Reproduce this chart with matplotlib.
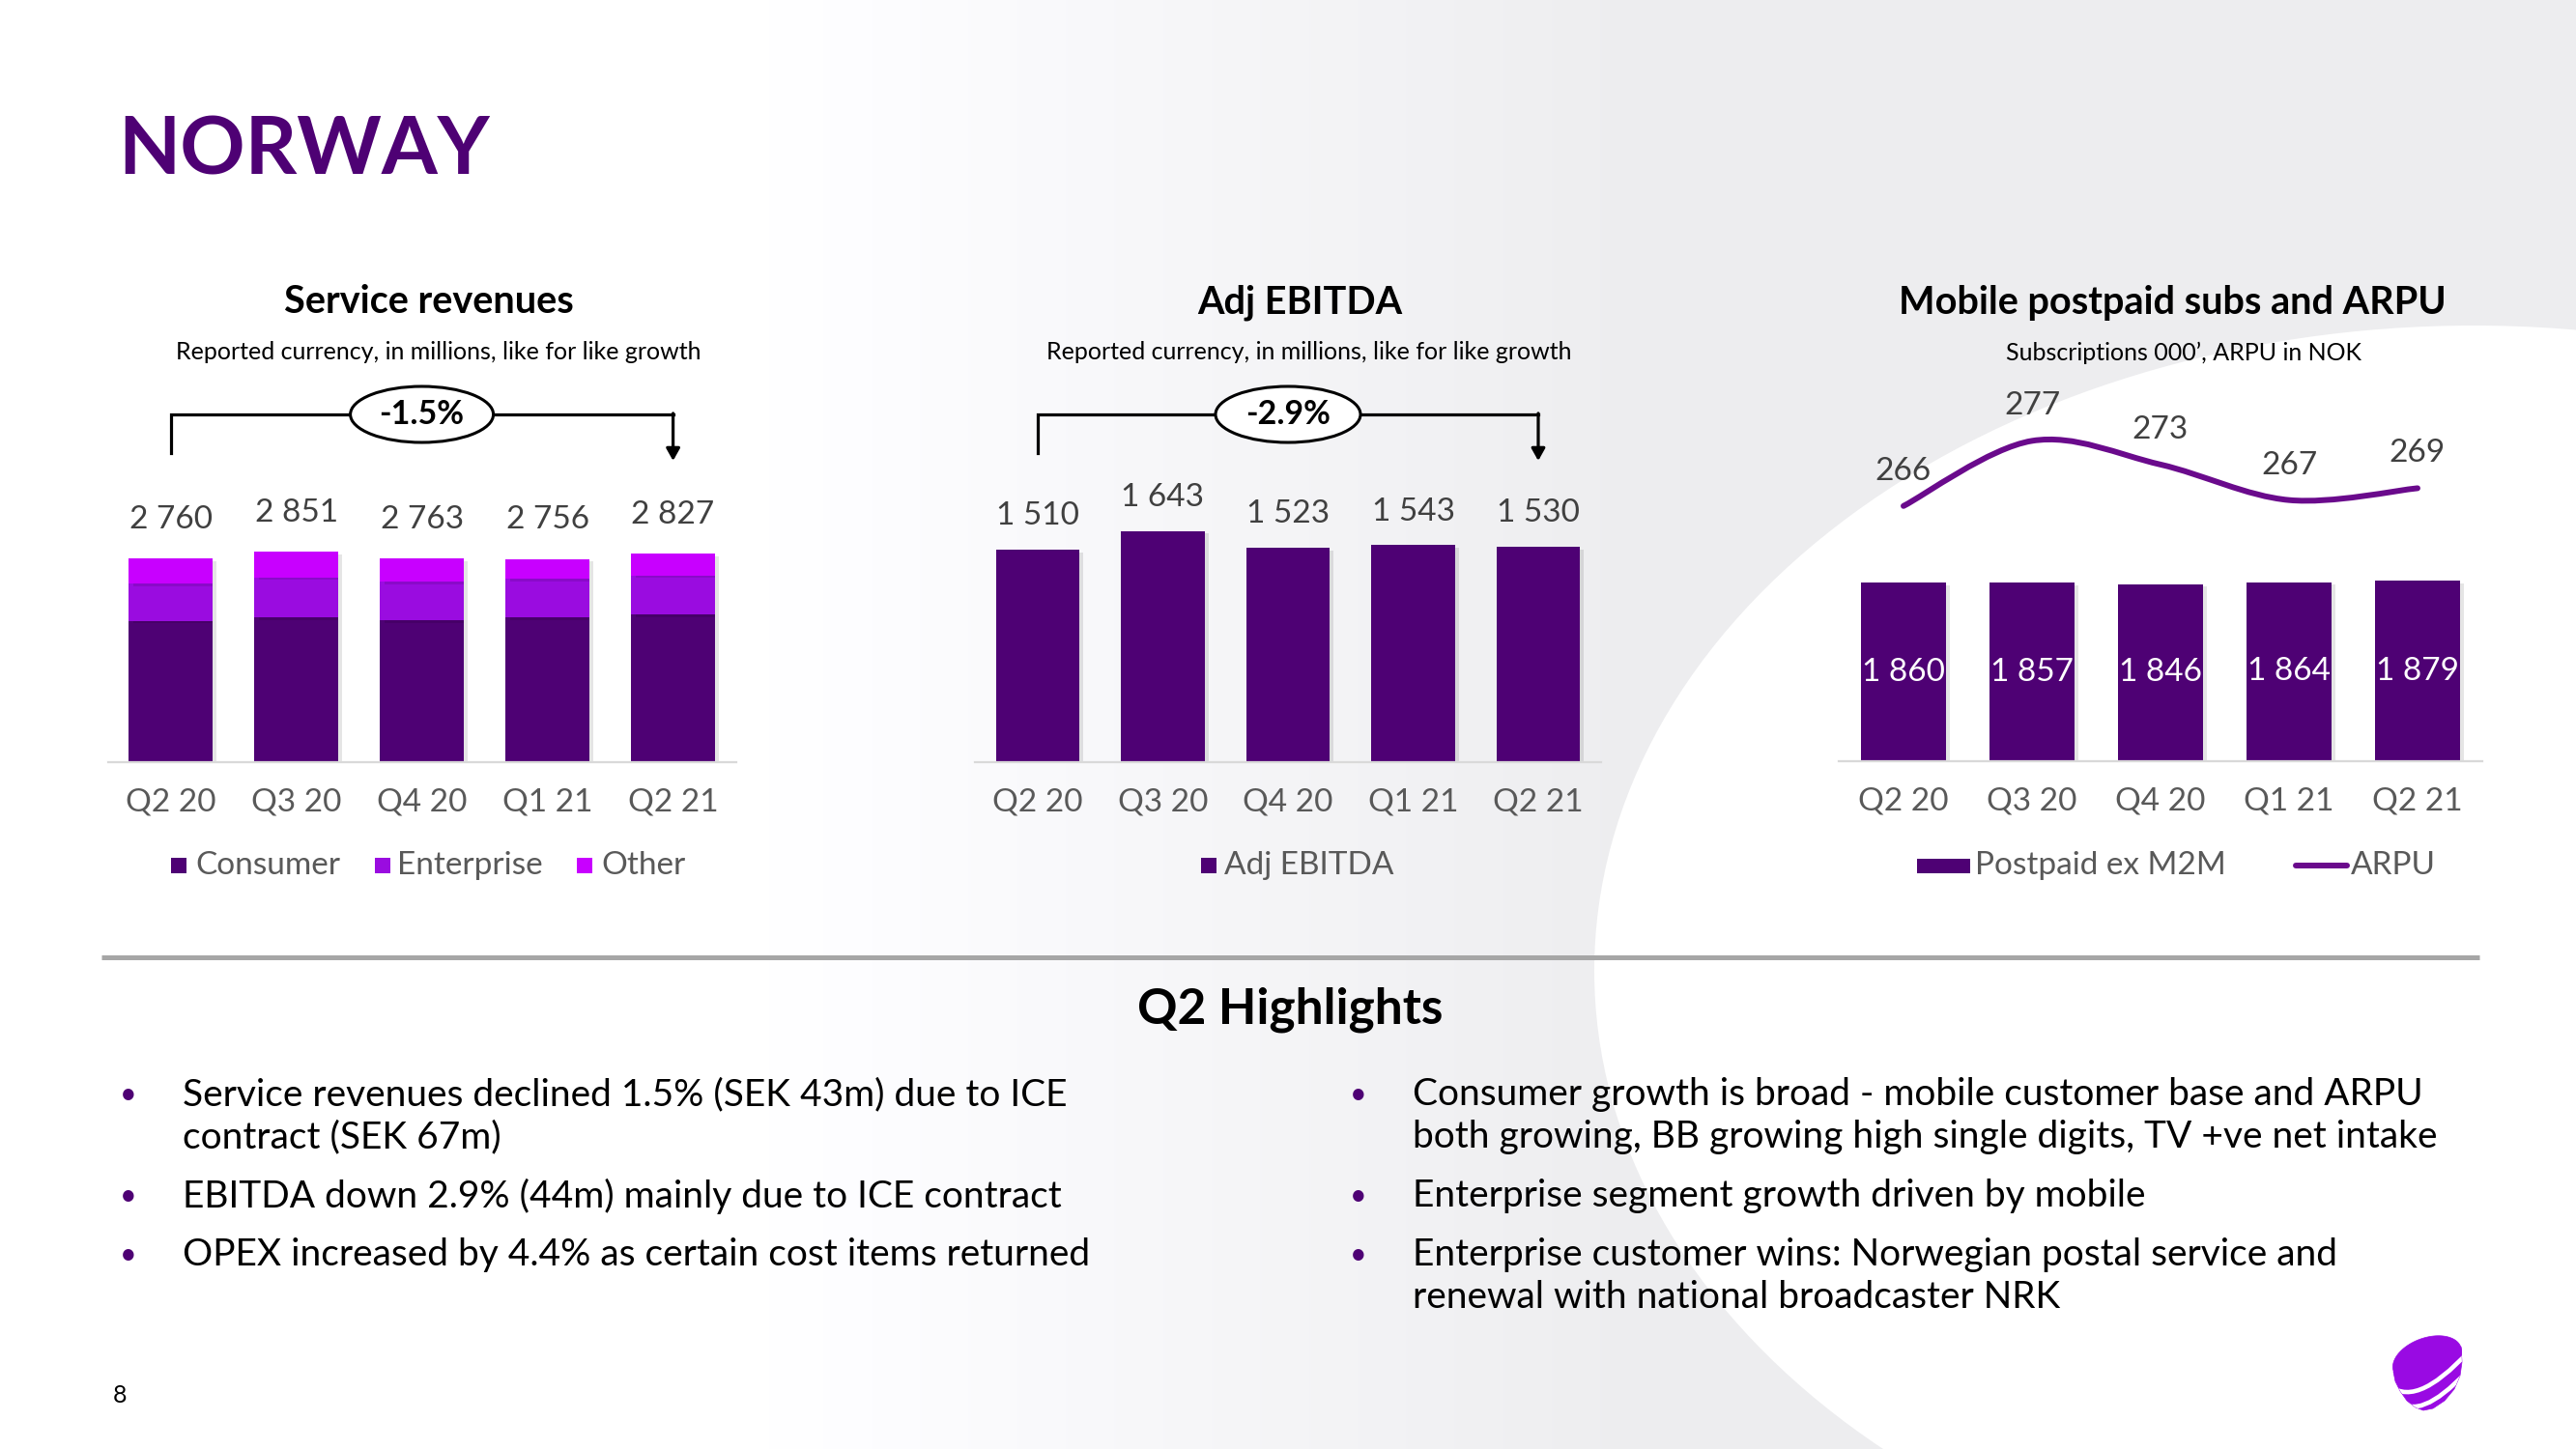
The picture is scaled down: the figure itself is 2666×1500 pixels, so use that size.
import numpy as np
import matplotlib
matplotlib.use('Agg')
import matplotlib.pyplot as plt
from matplotlib.patches import Ellipse, Rectangle, Polygon, PathPatch
from matplotlib.path import Path
import matplotlib.patheffects as pe
from matplotlib.transforms import blended_transform_factory

plt.rcParams['font.family'] = ['Lato', 'DejaVu Sans']

# ---------------- data ----------------
quarters = ['Q2 20', 'Q3 20', 'Q4 20', 'Q1 21', 'Q2 21']
consumer = [1917, 1960, 1925, 1961, 2004]
enterprise = [507, 545, 518, 523, 529]
other = [336, 346, 320, 272, 294]
service_total = [2760, 2851, 2763, 2756, 2827]
ebitda = [1510, 1643, 1523, 1543, 1530]
postpaid = [1860, 1857, 1846, 1864, 1879]
arpu = [266, 277, 273, 267, 269]
sr_growth = '-1.5%'
eb_growth = '-2.9%'

left_bullets = [
    'Service revenues declined 1.5% (SEK 43m) due to ICE\ncontract (SEK 67m)',
    'EBITDA down 2.9% (44m) mainly due to ICE contract',
    'OPEX increased by 4.4% as certain cost items returned',
]
right_bullets = [
    'Consumer growth is broad - mobile customer base and ARPU\nboth growing, BB growing high single digits, TV +ve net intake',
    'Enterprise segment growth driven by mobile',
    'Enterprise customer wins: Norwegian postal service and\nrenewal with national broadcaster NRK',
]

C_CONS = '#4E0174'
C_ENT = '#9A0CE0'
C_OTH = '#C800FF'
C_ARPU = '#6A0A8C'
C_LOGO = '#990AE3'
C_NUM = '#404040'
C_TICK = '#595959'

W, H = 2666, 1500
fig = plt.figure(figsize=(W / 100, H / 100), dpi=100)


def fr(x0, y0, x1, y1):
    return [x0 / W, 1 - y1 / H, (x1 - x0) / W, (y1 - y0) / H]


def T(x, y, s, **kw):
    return fig.text(x / W, 1 - y / H, s, **kw)


def fmt(v):
    return f'{v:,}'.replace(',', ' ')


# ---------------- background ----------------
bg = fig.add_axes([0, 0, 1, 1], zorder=-5)
bg.axis('off')
xs = np.linspace(0, W, 400)
t = np.clip((xs - 800) / 900, 0, 1)
g = 1 - 0.07 * t
img = np.stack([g, g, np.minimum(1, g + 0.008)], axis=-1)[None, :, :].repeat(10, axis=0)
bg.imshow(img, extent=[0, W, H, 0], aspect='auto', interpolation='bilinear')
bg.add_patch(Ellipse((2560, 1005), 1820, 1336, fc='white', ec='none'))
bg.set_xlim(0, W)
bg.set_ylim(H, 0)

# ---------------- chart axes ----------------
BAR_W = 0.665
FS_NUM = 24
FS_TICK = 24


def make_ax(xc0, spacing, baseline, ppu, height=400):
    x0 = xc0 - 0.5 * spacing
    x1 = xc0 + 4.5 * spacing
    ax = fig.add_axes(fr(x0, baseline - height, x1, baseline), zorder=2)
    ax.set_xlim(-0.5, 4.5)
    ax.set_ylim(0, height / ppu)
    ax.patch.set_alpha(0)
    for s in ['top', 'right', 'left']:
        ax.spines[s].set_visible(False)
    ax.spines['bottom'].set_color('#D9D9D9')
    ax.spines['bottom'].set_linewidth(1.6)
    ax.set_yticks([])
    ax.set_xticks(range(len(quarters)))
    ax.set_xticklabels(quarters, fontsize=FS_TICK, color=C_TICK)
    ax.tick_params(axis='x', length=0, pad=19)
    return ax


shadow = [pe.SimplePatchShadow(offset=(3, -2), shadow_rgbFace='#000000', alpha=0.10), pe.Normal()]

# Service revenues
ax1 = make_ax(176.6, 130, 789.4, 0.07652)
x = np.arange(len(quarters))
bottom2 = np.array(consumer)
bottom3 = bottom2 + np.array(enterprise)
for bars in [
    ax1.bar(x, consumer, BAR_W, color=C_CONS),
    ax1.bar(x, enterprise, BAR_W, bottom=bottom2, color=C_ENT),
    ax1.bar(x, other, BAR_W, bottom=bottom3, color=C_OTH),
]:
    for b in bars:
        b.set_path_effects(shadow)
for i, v in enumerate(service_total):
    ax1.annotate(fmt(v), (i, bottom3[i] + other[i]), xytext=(0, 29), textcoords='offset points',
                 ha='center', va='center', fontsize=FS_NUM, color=C_NUM)

# EBITDA
ax2 = make_ax(1074, 129.5, 789.4, 0.1459)
for b in ax2.bar(x, ebitda, BAR_W, color=C_CONS):
    b.set_path_effects(shadow)
for i, v in enumerate(ebitda):
    ax2.annotate(fmt(v), (i, v), xytext=(0, 25), textcoords='offset points',
                 ha='center', va='center', fontsize=FS_NUM, color=C_NUM)

# Mobile
ax3 = make_ax(1970, 133, 788, 0.0994)
for b in ax3.bar(x, postpaid, BAR_W, color=C_CONS):
    b.set_path_effects(shadow)
for i, v in enumerate(postpaid):
    ax3.text(i, v / 2, fmt(v), ha='center', va='center', fontsize=FS_NUM, color='white')

ax3b = ax3.twinx()
ax3b.set_ylim(222.9, 222.9 + 400 / 6.13)
ax3b.axis('off')
ax3b.set_xlim(-0.5, 4.5)
P = np.column_stack([x, arpu]).astype(float)
verts = [P[0]]
codes = [Path.MOVETO]
n = len(P)
for i in range(n - 1):
    p_prev = P[i - 1] if i > 0 else P[i]
    p_next2 = P[i + 2] if i + 2 < n else P[i + 1]
    c1 = P[i] + (P[i + 1] - p_prev) / 6
    c2 = P[i + 1] - (p_next2 - P[i]) / 6
    verts += [c1, c2, P[i + 1]]
    codes += [Path.CURVE4] * 3
ax3b.add_patch(PathPatch(Path(verts, codes), fill=False, ec=C_ARPU, lw=4.3, capstyle='round'))
for i, v in enumerate(arpu):
    ax3b.annotate(str(v), (i, v), xytext=(0, 26), textcoords='offset points',
                  ha='center', va='center', fontsize=FS_NUM, color=C_NUM)


# ---------------- growth brackets ----------------
def bracket(ax, label, spacing, y_line=429, y_left=469, y_tip=477, ew=148, eh=58):
    tr = blended_transform_factory(ax.transData, fig.dpi_scale_trans)
    yi = lambda yp: (H - yp) / 100
    ax.plot([0, 0, 4], [yi(y_left), yi(y_line), yi(y_line)], transform=tr, color='black',
            lw=2.3, clip_on=False, solid_joinstyle='miter', zorder=3)
    ax.annotate('', xy=(4, yi(y_tip)), xytext=(4, yi(y_line) + 0.011), xycoords=tr, textcoords=tr,
                arrowprops=dict(arrowstyle='-|>,head_length=0.75,head_width=0.42', lw=2.3,
                                color='black', shrinkA=0, shrinkB=0), zorder=3)
    ax.add_patch(Ellipse((2, yi(y_line)), ew / spacing, eh / 100, transform=tr, fc='white',
                         ec='black', lw=2.2, clip_on=False, zorder=4))
    ax.text(2, yi(y_line), label, transform=tr, ha='center', va='center', fontsize=24.5,
            fontweight='bold', zorder=5)


bracket(ax1, sr_growth, 130)
bracket(ax2, eb_growth, 129.5, ew=150)

# ---------------- overlay (legends, lines, logo) ----------------
ov = fig.add_axes([0, 0, 1, 1], zorder=3)
ov.set_xlim(0, W)
ov.set_ylim(H, 0)
ov.axis('off')
ov.patch.set_alpha(0)

LEG_Y = 896
FS_LEG = 24
for (sx, tx, lab, col) in [(177, 202, 'Consumer', C_CONS), (388, 411, 'Enterprise', C_ENT),
                           (597, 622, 'Other', C_OTH), (1243, 1267, 'Adj EBITDA', C_CONS)]:
    ov.add_patch(Rectangle((sx, LEG_Y - 8), 16, 16, fc=col, ec='none'))
    ov.text(tx, LEG_Y, lab, fontsize=FS_LEG, color=C_TICK, va='center', ha='left')
ov.add_patch(Rectangle((1984, LEG_Y - 7.5), 55, 15, fc=C_CONS, ec='none'))
ov.text(2044, LEG_Y, 'Postpaid ex M2M', fontsize=FS_LEG, color=C_TICK, va='center', ha='left')
ov.plot([2376, 2429], [LEG_Y, LEG_Y], color=C_ARPU, lw=4.3, solid_capstyle='round')
ov.text(2433, LEG_Y, 'ARPU', fontsize=FS_LEG, color=C_TICK, va='center', ha='left')

# separator
ov.plot([105, 2566], [991, 991], color='#A6A6A6', lw=3.6, solid_capstyle='butt')

# logo
cx, cy = 2512, 1407
ang = np.deg2rad(-20)
th = np.linspace(0, 2 * np.pi, 120)
a, b_ = 37, 22
ex = cx + a * np.cos(th) * np.cos(ang) - b_ * np.sin(th) * np.sin(ang)
ey = cy + a * np.cos(th) * np.sin(ang) + b_ * np.sin(th) * np.cos(ang)
body_pts = [(2477, 1420), (2479, 1430), (2484, 1440), (2491, 1450), (2500, 1457), (2508, 1460),
            (2518, 1458), (2530, 1450), (2540, 1438), (2546, 1424), (2548, 1410), (2547, 1394),
            (2512, 1400)]
body = Polygon(body_pts, closed=True, fc=C_LOGO, ec=C_LOGO, lw=0.5)
ov.add_patch(body)
top = Polygon(np.column_stack([ex, ey]), closed=True, fc=C_LOGO, ec=C_LOGO, lw=0.5)
ov.add_patch(top)
for (p0, c, p2) in [((2470, 1431), (2497.5, 1462), (2556, 1398)),
                    ((2482, 1449), (2503.5, 1472), (2552, 1421))]:
    sp = PathPatch(Path([p0, c, p2], [Path.MOVETO, Path.CURVE3, Path.CURVE3]), fill=False,
                   ec='white', lw=3.3)
    ov.add_patch(sp)
    sp.set_clip_path(body)

# ---------------- texts ----------------
T(122, 157, 'NORWAY', fontsize=60, fontweight='bold', color=C_CONS, va='center', ha='left')

for xc, s in [(444, 'Service revenues'), (1345, 'Adj EBITDA'), (2248, 'Mobile postpaid subs and ARPU')]:
    T(xc, 313, s, fontsize=28.5, fontweight='bold', ha='center', va='center')
for xc, s in [(454, 'Reported currency, in millions, like for like growth'),
              (1355, 'Reported currency, in millions, like for like growth'),
              (2260, 'Subscriptions 000\u2019, ARPU in NOK')]:
    T(xc, 365, s, fontsize=18, ha='center', va='center')

T(1335, 1045, 'Q2 Highlights', fontsize=37, fontweight='bold', ha='center', va='center')

LINE = 44
FS_BUL = 28
for col_x, bx, items, y0 in [(189, 133, left_bullets, 1133), (1462, 1406, right_bullets, 1133)]:
    y = y0
    for it in items:
        lines = it.split('\n')
        T(bx, y, '\u2022', fontsize=22, color=C_CONS, ha='center', va='center')
        for k, line in enumerate(lines):
            T(col_x, y + k * LINE, line, fontsize=FS_BUL, ha='left', va='center')
        y += (len(lines) - 1) * LINE + 61

T(124, 1444, '8', fontsize=18, ha='center', va='center')

fig.savefig('out.png', dpi=100)
